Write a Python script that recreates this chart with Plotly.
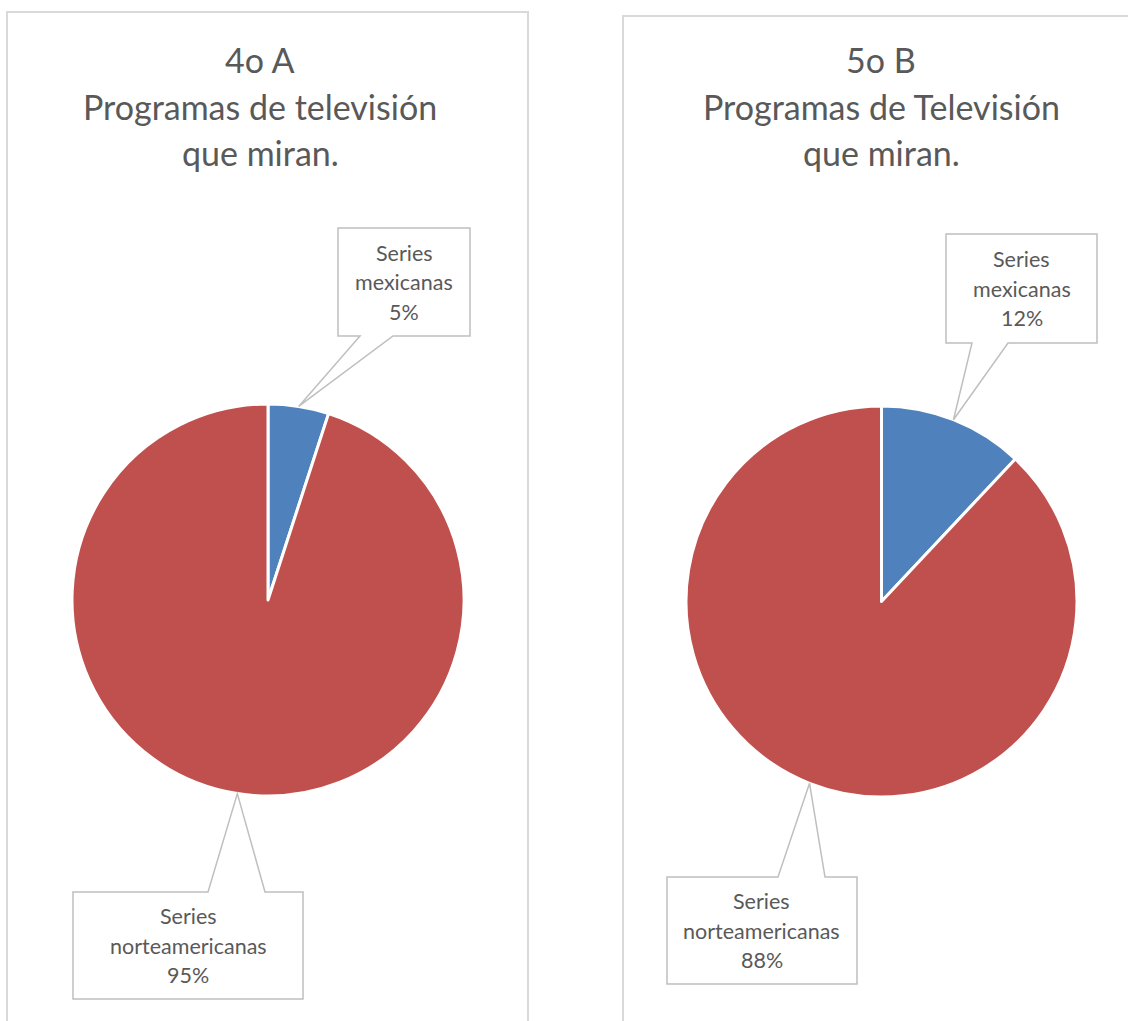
import math
import plotly.graph_objects as go

W, H = 1128, 1021

# ---- data ----
categories = ["Series mexicanas", "Series norteamericanas"]
label_lines = [["Series", "mexicanas"], ["Series", "norteamericanas"]]
values_4oA = [5, 95]
values_5oB = [12, 88]
title_4oA = ["4o A", "Programas de televisión", "que miran."]
title_5oB = ["5o B", "Programas de Televisión", "que miran."]
colors = ["#4F81BD", "#C0504D"]

TEXT = "#595959"
FONT = "Lato"


def px(x):
    return x / W


def py(y):
    return 1 - y / H


# layout: pie center/radius (pixels), title center, callout boxes (x0,y0,x1,y1, pointer base x's)
panels = [
    dict(values=values_4oA, title=title_4oA, cx=268, cy=600, r=196, tx=260,
         frame=(7, 12, 528, 1040),
         boxes=[(338, 228, 470, 336, 360, 393), (73, 892, 303, 999, 208, 265)]),
    dict(values=values_5oB, title=title_5oB, cx=881.5, cy=601.5, r=195.5, tx=881,
         frame=(623, 16, 1140, 1040),
         boxes=[(946, 234, 1097, 343, 972, 1008), (667, 877, 857, 984, 778, 825)]),
]

fig = go.Figure()
shapes = []
annotations = []

for p in panels:
    cx, cy, r = p["cx"], p["cy"], p["r"]
    fig.add_trace(go.Pie(
        labels=categories, values=p["values"], sort=False, direction="clockwise",
        rotation=0, textinfo="none", hoverinfo="skip", showlegend=False,
        marker=dict(colors=colors, line=dict(color="white", width=3)),
        domain=dict(x=[px(cx - r), px(cx + r)], y=[py(cy + r), py(cy - r)]),
    ))
    # frame
    fx0, fy0, fx1, fy1 = p["frame"]
    shapes.append(dict(type="rect", xref="paper", yref="paper", layer="below",
                       x0=px(fx0), x1=px(fx1), y0=py(fy0), y1=py(fy1),
                       line=dict(color="#D9D9D9", width=2), fillcolor="rgba(0,0,0,0)"))
    # title
    for i, t in enumerate(p["title"]):
        annotations.append(dict(text=t, x=px(p["tx"]), y=py(60 + 46 * i), xref="paper", yref="paper",
                                showarrow=False, xanchor="center", yanchor="middle",
                                font=dict(family=FONT, size=34, color=TEXT)))
    # callouts
    total = sum(p["values"])
    cum = 0
    for k, v in enumerate(p["values"]):
        mid = (cum + v / 2) / total * 2 * math.pi
        cum += v
        tipx = cx + r * math.sin(mid)
        tipy = cy - r * math.cos(mid)
        x0, y0, x1, y1, b1, b2 = p["boxes"][k]
        if tipy < y0:
            path = (f"M {px(x0)},{py(y0)} L {px(b1)},{py(y0)} L {px(tipx)},{py(tipy)} "
                    f"L {px(b2)},{py(y0)} L {px(x1)},{py(y0)} L {px(x1)},{py(y1)} L {px(x0)},{py(y1)} Z")
        else:
            path = (f"M {px(x0)},{py(y0)} L {px(x1)},{py(y0)} L {px(x1)},{py(y1)} L {px(b2)},{py(y1)} "
                    f"L {px(tipx)},{py(tipy)} L {px(b1)},{py(y1)} L {px(x0)},{py(y1)} Z")
        shapes.append(dict(type="path", path=path, xref="paper", yref="paper",
                           line=dict(color="#BFBFBF", width=1.5), fillcolor="white"))
        lines = label_lines[k] + [f"{round(v / total * 100)}%"]
        bcx = (x0 + x1) / 2
        bcy = (y0 + y1) / 2
        for j, ln in enumerate(lines):
            annotations.append(dict(text=ln, x=px(bcx), y=py(bcy + (j - 1) * 29.5),
                                    xref="paper", yref="paper", showarrow=False,
                                    xanchor="center", yanchor="middle",
                                    font=dict(family=FONT, size=21.5, color=TEXT)))

fig.update_layout(
    width=W, height=H, margin=dict(l=0, r=0, t=0, b=0),
    paper_bgcolor="white", plot_bgcolor="white",
    shapes=shapes, annotations=annotations,
)

fig.write_html("out.html", config={"displayModeBar": False},
               post_script="document.body.style.margin='0px';document.body.style.padding='0px';")
